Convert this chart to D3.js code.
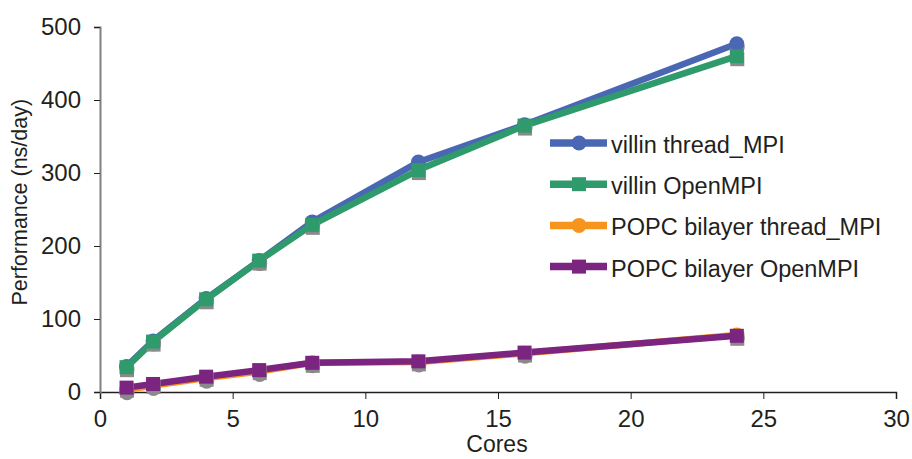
<!DOCTYPE html>
<html>
<head>
<meta charset="utf-8">
<script src="https://cdn.jsdelivr.net/npm/d3@7"></script>
<style>
  body { margin: 0; background: #fff; }
  text { font-family: "Liberation Sans", Arial, sans-serif; fill: #231f20; }
</style>
</head>
<body>
<div id="chart"></div>
<script>
const cores = [1, 2, 4, 6, 8, 12, 16, 24];
const villinThread = [35, 70, 128, 180, 233, 315, 366, 477];
const villinOpen = [34, 69, 127, 180, 229, 304, 365, 460];
const popcThread = [3, 9, 19, 28, 40, 41, 53, 78];
const popcOpen = [6, 11, 21, 30, 40, 42, 54, 77];
const xTicks = [0, 5, 10, 15, 20, 25, 30];
const yTicks = [0, 100, 200, 300, 400, 500];

const series = [
    { name: "villin thread_MPI", values: villinThread, color: "#4a67b4", shape: "circle" },
    { name: "villin OpenMPI", values: villinOpen, color: "#2f9a6b", shape: "square" },
    { name: "POPC bilayer thread_MPI", values: popcThread, color: "#f7941d", shape: "circle" },
    { name: "POPC bilayer OpenMPI", values: popcOpen, color: "#7b2480", shape: "square" }
];

const width = 912;
const height = 459;
const margin = { top: 27, right: 16, bottom: 67, left: 100 };

const svg = d3.select("#chart").append("svg")
    .attr("width", width)
    .attr("height", height);

const xScale = d3.scaleLinear()
    .domain([0, 30])
    .range([margin.left, width - margin.right]);

const yScale = d3.scaleLinear()
    .domain([0, 500])
    .range([height - margin.bottom, margin.top]);

// axes
const xAxis = svg.append("g")
    .attr("transform", `translate(0,${yScale(0)})`)
    .call(d3.axisBottom(xScale).tickValues(xTicks).tickSize(7).tickPadding(11));
xAxis.select(".domain").attr("stroke", "#231f20").attr("stroke-width", 1.5);
xAxis.selectAll(".tick line").attr("stroke", "#231f20");
xAxis.selectAll("text").style("font-size", "24px").attr("fill", "#231f20");

const yAxis = svg.append("g")
    .attr("transform", `translate(${margin.left},0)`)
    .call(d3.axisLeft(yScale).tickValues(yTicks).tickSize(6).tickPadding(13));
yAxis.select(".domain").attr("stroke", "#808080").attr("stroke-width", 2);
yAxis.selectAll(".tick line").attr("stroke", "#231f20");
yAxis.selectAll("text").style("font-size", "24px").attr("fill", "#231f20");

svg.append("text")
    .attr("x", 497)
    .attr("y", 452)
    .attr("text-anchor", "middle")
    .style("font-size", "23px")
    .text("Cores");

svg.append("text")
    .attr("transform", `translate(27,${yScale(260)}) rotate(-90)`)
    .attr("text-anchor", "middle")
    .style("font-size", "21.5px")
    .text("Performance (ns/day)");

const line = d3.line()
    .x((d, i) => xScale(cores[i]))
    .y((d) => yScale(d));

function drawMarker(g, shape, x, y, fill) {
    if (shape === "circle") {
        g.append("circle").attr("cx", x).attr("cy", y).attr("r", 7.5).attr("fill", fill);
    } else {
        g.append("rect").attr("x", x - 7).attr("y", y - 7).attr("width", 14).attr("height", 14).attr("fill", fill);
    }
}

series.forEach((s) => {
    const g = svg.append("g");
    g.append("path")
        .datum(s.values)
        .attr("fill", "none")
        .attr("stroke", s.color)
        .attr("stroke-width", 6.5)
        .attr("stroke-linejoin", "round")
        .attr("d", line);
    // grey drop shadow under each marker
    s.values.forEach((v, i) => {
        drawMarker(g, s.shape, xScale(cores[i]) + 0.5, yScale(v) + 3, "#8a8a8a");
    });
    s.values.forEach((v, i) => {
        drawMarker(g, s.shape, xScale(cores[i]), yScale(v), s.color);
    });
});

// legend
const legend = svg.append("g").attr("transform", "translate(550,143)");
series.forEach((s, i) => {
    const row = legend.append("g").attr("transform", `translate(0,${i * 41.2})`);
    row.append("line")
        .attr("x1", 0).attr("x2", 57)
        .attr("stroke", s.color)
        .attr("stroke-width", 7.5);
    drawMarker(row, s.shape, 29, 0, s.color);
    row.append("text")
        .attr("x", 61)
        .attr("y", 10)
        .style("font-size", "23.5px")
        .text(s.name);
});
</script>
</body>
</html>
